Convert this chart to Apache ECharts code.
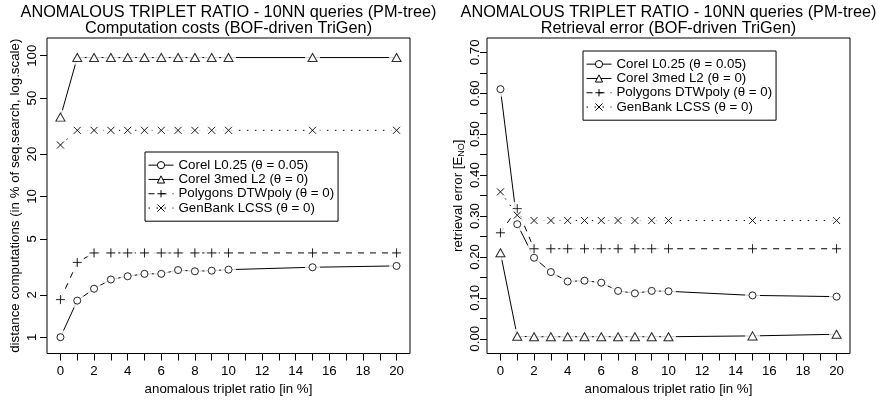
<!DOCTYPE html>
<html><head><meta charset="utf-8">
<script src="https://cdn.jsdelivr.net/npm/echarts@6/dist/echarts.min.js"></script>
<style>html,body{margin:0;padding:0;background:#fff}#c{width:881px;height:401px}</style>
</head><body><div id="c"></div>
<script>
// ---- data ----
const xValues = [0, 1, 2, 3, 4, 5, 6, 7, 8, 9, 10, 15, 20];
const seriesNames = ['Corel L0.25 (θ = 0.05)', 'Corel 3med L2 (θ = 0)', 'Polygons DTWpoly (θ = 0)', 'GenBank LCSS (θ = 0)'];
// left chart: distance computations (% of seq. search, log scale)
const costCorelL025 = [1.0, 1.82, 2.21, 2.57, 2.71, 2.82, 2.82, 3.0, 2.94, 2.97, 3.02, 3.14, 3.21];
const costCorel3med = [36.6, 97, 97, 97, 97, 97, 97, 97, 97, 97, 97, 97, 97];
const costPolygons = [1.85, 3.4, 3.97, 3.97, 3.97, 3.97, 3.97, 3.97, 3.97, 3.97, 3.97, 3.97, 3.97];
const costGenBank = [23.2, 29.5, 29.5, 29.5, 29.5, 29.5, 29.5, 29.5, 29.5, 29.5, 29.5, 29.5, 29.5];
// right chart: retrieval error
const errCorelL025 = [0.610, 0.280, 0.198, 0.163, 0.140, 0.142, 0.137, 0.117, 0.111, 0.117, 0.116, 0.106, 0.103];
const errCorel3med = [0.210, 0.006, 0.005, 0.005, 0.005, 0.005, 0.005, 0.005, 0.005, 0.005, 0.005, 0.007, 0.011];
const errPolygons = [0.259, 0.318, 0.220, 0.220, 0.220, 0.220, 0.220, 0.220, 0.220, 0.220, 0.220, 0.220, 0.220];
const errGenBank = [0.359, 0.302, 0.289, 0.289, 0.289, 0.289, 0.289, 0.289, 0.289, 0.289, 0.289, 0.289, 0.289];
// ticks / labels
const xTickValues = [0, 1, 2, 3, 4, 5, 6, 7, 8, 9, 10, 11, 12, 13, 14, 15, 16, 17, 18, 19, 20];
const xLabelValues = [0, 2, 4, 6, 8, 10, 12, 14, 16, 18, 20];
const costTickValues = [1, 2, 5, 10, 20, 50, 100];
const errTickValues = [0, 0.05, 0.10, 0.15, 0.20, 0.25, 0.30, 0.35, 0.40, 0.45, 0.50, 0.55, 0.60, 0.65, 0.70];
const errLabelValues = [0, 0.10, 0.20, 0.30, 0.40, 0.50, 0.60, 0.70];
const titleLine1 = 'ANOMALOUS TRIPLET RATIO - 10NN queries (PM-tree)';
const titleLeft2 = 'Computation costs (BOF-driven TriGen)';
const titleRight2 = 'Retrieval error (BOF-driven TriGen)';
const xName = 'anomalous triplet ratio [in %]';
const yNameLeft = 'distance computations (in % of seq.search, log.scale)';

// ---- styling ----
const FONT = 'Liberation Sans, Arial, sans-serif';
const FS = 13.3;
const plusPath = 'path://M0,5L10,5M5,0L5,10';
const crossPath = 'path://M0,0L10,10M0,10L10,0';
const styles = [
  { symbol: 'circle', size: 7, dash: 'solid', item: { color: '#fff', borderColor: '#000', borderWidth: 1 } },
  { symbol: 'triangle', size: [9, 8], dash: 'solid', item: { color: '#fff', borderColor: '#000', borderWidth: 1 } },
  { symbol: plusPath, size: 9, dash: [6, 6], item: { color: '#000', borderColor: '#000', borderWidth: 1 } },
  { symbol: crossPath, size: 7, dash: [1.5, 6.5], item: { color: '#000', borderColor: '#000', borderWidth: 1 } }
];

const costData = [costCorelL025, costCorel3med, costPolygons, costGenBank];
const errData = [errCorelL025, errCorel3med, errPolygons, errGenBank];

const series = [];
const markerSeries = [];
let zc = 2;
[costData, errData].forEach((set, c) => {
  set.forEach((vals, k) => {
    const data = xValues.map((x, i) => [x, vals[i]]);
    const st = styles[k];
    series.push({
      type: 'line', name: seriesNames[k], xAxisIndex: c, yAxisIndex: c, data,
      symbol: st.symbol, symbolSize: st.size, showSymbol: true,
      itemStyle: st.item,
      lineStyle: { color: '#000', width: 1, type: st.dash },
      emphasis: { disabled: true },
      animation: false, silent: true, z: zc++
    });
    series.push({
      type: 'scatter', name: 'gap' + c + k, xAxisIndex: c, yAxisIndex: c, data,
      symbol: 'circle', symbolSize: 15, itemStyle: { color: '#fff' },
      emphasis: { disabled: true },
      animation: false, silent: true, z: zc++
    });
    markerSeries.push({
      type: 'scatter', name: 'mark' + c + k, xAxisIndex: c, yAxisIndex: c, data,
      symbol: st.symbol, symbolSize: st.size, itemStyle: st.item,
      emphasis: { disabled: true },
      animation: false, silent: true, z: 100
    });
  });
});

const gridW = 363, gridH = 316, gridTop = 38;
const lefts = [47, 487];

function xAxisFor(c) {
  return {
    type: 'value', gridIndex: c, min: -0.8, max: 20.8,
    splitLine: { show: false },
    axisLine: { show: false, onZero: false },
    axisTick: { show: true, length: 7, lineStyle: { color: '#000', width: 1 }, customValues: xTickValues },
    axisLabel: { customValues: xLabelValues, margin: 11, color: '#000', fontSize: FS, fontFamily: FONT },
    name: xName, nameLocation: 'middle', nameGap: 29.5,
    nameTextStyle: { color: '#000', fontSize: FS, fontFamily: FONT }
  };
}

const option = {
  backgroundColor: '#fff',
  animation: false,
  title: [
    { text: titleLine1 + '\n' + titleLeft2, left: lefts[0] + gridW / 2, top: 4, textAlign: 'center', padding: 0,
      textStyle: { fontSize: 16.3, fontWeight: 'normal', color: '#000', fontFamily: FONT, lineHeight: 16.5 } },
    { text: titleLine1 + '\n' + titleRight2, left: lefts[1] + gridW / 2, top: 4, textAlign: 'center', padding: 0,
      textStyle: { fontSize: 16.3, fontWeight: 'normal', color: '#000', fontFamily: FONT, lineHeight: 16.5 } }
  ],
  grid: lefts.map(l => ({ left: l, top: gridTop, width: gridW, height: gridH, show: true,
    borderColor: '#000', borderWidth: 1, backgroundColor: 'transparent', containLabel: false })),
  xAxis: [xAxisFor(0), xAxisFor(1)],
  yAxis: [
    {
      type: 'log', logBase: 10, gridIndex: 0, min: 0.766, max: 133.6,
      splitLine: { show: false },
      axisLine: { show: false, onZero: false },
      axisTick: { show: true, length: 7, lineStyle: { color: '#000', width: 1 }, customValues: costTickValues },
      axisLabel: { customValues: costTickValues, rotate: 90, margin: 8, color: '#000', fontSize: FS, fontFamily: FONT },
      name: yNameLeft, nameLocation: 'middle', nameGap: 25,
      nameTextStyle: { color: '#000', fontSize: FS, fontFamily: FONT }
    },
    {
      type: 'value', gridIndex: 1, min: -0.036, max: 0.735,
      splitLine: { show: false },
      axisLine: { show: false, onZero: false },
      axisTick: { show: true, length: 7, lineStyle: { color: '#000', width: 1 }, customValues: errTickValues },
      axisLabel: { customValues: errLabelValues, rotate: 90, margin: 5, color: '#000', fontSize: FS, fontFamily: FONT,
        formatter: v => v.toFixed(2) },
      name: 'retrieval error [E{sub|NO}]', nameLocation: 'middle', nameGap: 21,
      nameTextStyle: { color: '#000', fontSize: FS, fontFamily: FONT,
        rich: { sub: { fontSize: 9, fontFamily: FONT, color: '#000', padding: [7, 0, 0, 0] } } }
    }
  ],
  legend: lefts.map((l, c) => ({
    orient: 'vertical', left: c === 0 ? 145 : 583, top: c === 0 ? 152 : 51,
    padding: [6, 4, 6, 3], itemGap: 0, itemWidth: 25, itemHeight: 9,
    borderColor: '#000', borderWidth: 1, backgroundColor: '#fff',
    data: seriesNames, selectedMode: false,
    lineStyle: { width: 1 }, itemStyle: { borderWidth: 1 },
    textStyle: { fontSize: FS, color: '#000', fontFamily: FONT, lineHeight: 14.3 }
  })),
  series: series.concat(markerSeries)
};

const chart = echarts.init(document.getElementById('c'), null, { renderer: 'canvas' });
chart.setOption(option);
</script>
</body></html>
